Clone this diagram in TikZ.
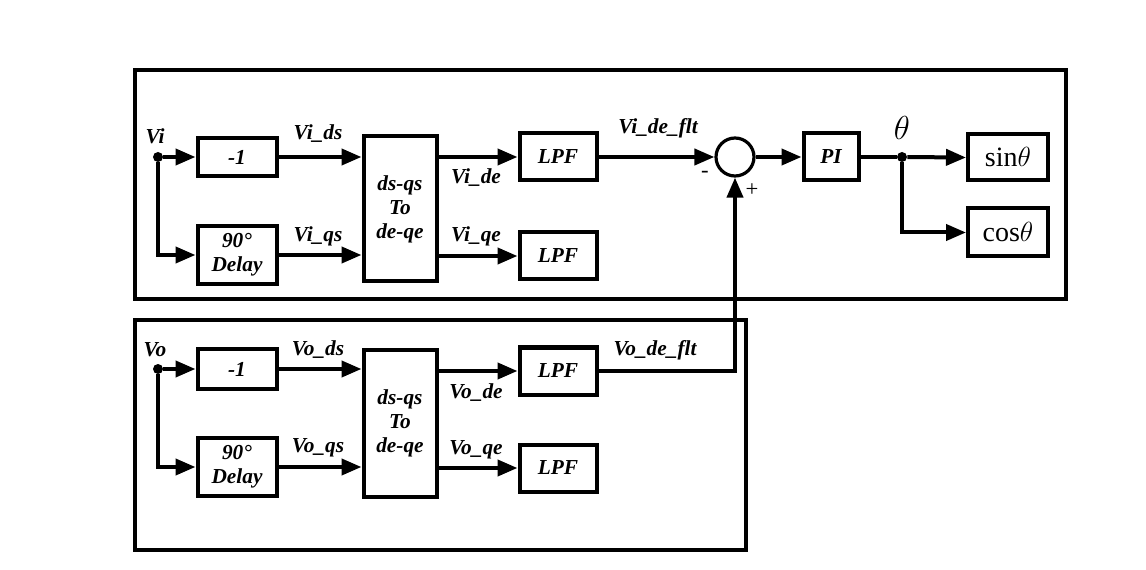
\documentclass[tikz,border=0pt]{standalone}
\usepackage{fontspec}
\setmainfont{Liberation Serif}
\usetikzlibrary{arrows.meta}
\newdimen\px \px=0.75pt
\begin{document}
\begin{tikzpicture}[x=0.75pt,y=-0.75pt,
  blk/.style={draw,line width=3pt,inner sep=0pt,align=center,font=\fontsize{16}{18}\selectfont\bfseries\itshape},
  rblk/.style={draw,line width=3pt,inner sep=0pt,align=center,font=\fontsize{21}{22}\selectfont},
  lbl/.style={font=\fontsize{16}{17}\selectfont\bfseries\itshape,inner sep=0pt},
  sgn/.style={font=\fontsize{17}{17}\selectfont,inner sep=0pt},
  frame/.style={draw,line width=3pt},
  arr/.style={line width=3pt,-{Triangle[length=15pt,width=12pt]}},
  ln/.style={line width=3pt},
  dotn/.style={circle,fill,inner sep=0pt,minimum size=7.5pt}]
\useasboundingbox (0,0) rectangle (1146,570);
% frames
\draw[frame] (135,70) rectangle (1066,299);
\draw[frame] (135,320) rectangle (746,550);
% ---------- top ----------
\node[dotn] (vi) at (158,157) {};
\node[lbl] (vil) at (155,136) {Vi};
\node[blk,minimum width=79\px,minimum height=38\px] (n1) at (237,157) {-1};
\node[blk,minimum width=79\px,minimum height=58\px] (d1) at (237,255) {90°\\Delay};
\node[blk,minimum width=73\px,minimum height=145\px] (t1) at (400,209) {ds-qs\\To\\de-qe};
\node[blk,minimum width=77\px,minimum height=47\px] (l1) at (558,157) {LPF};
\node[blk,minimum width=77\px,minimum height=47\px] (l2) at (558,256) {LPF};
\node[draw,circle,line width=2.4pt,minimum size=38\px,inner sep=0pt] (sum) at (735,157) {};
\node[blk,minimum width=55\px,minimum height=47\px] (pi) at (831,157) {PI};
\node[dotn] (th) at (902,157) {};
\node[font=\fontsize{30}{30}\selectfont,inner sep=0pt] (thl) at (902,128) {$\theta$};
\node[rblk,minimum width=80\px,minimum height=46\px] (sin) at (1008,157.5) {sin$\theta$};
\node[rblk,minimum width=80\px,minimum height=48\px] (cos) at (1008,232.5) {cos$\theta$};
\draw[arr] (vi) -- (n1.west);
\draw[arr] (vi) |- (d1.west);
\draw[arr] (n1.east) -- (n1.east -| t1.west);
\draw[arr] (d1.east) -- (d1.east -| t1.west);
\draw[arr] (l1.west -| t1.east) -- (l1.west);
\draw[arr] (l2.west -| t1.east) -- (l2.west);
\draw[arr] (l1.east) -- (sum.west);
\draw[arr] (sum.east) -- (pi.west);
\draw[ln] (pi.east) -- (th);
\draw[arr] (th) -- (sin.west);
\draw[arr] (th) |- (cos.west);
\node[lbl] at (318,134) {Vi\_ds};
\node[lbl] at (318,236) {Vi\_qs};
\node[lbl] at (476,178) {Vi\_de};
\node[lbl] at (476,236) {Vi\_qe};
\node[lbl] at (658,128) {Vi\_de\_flt};
\node[sgn] at (705,174) {-};
\node[sgn] at (752,190) {+};
% ---------- bottom ----------
\node[dotn] (vo) at (158,369) {};
\node[lbl] (vol) at (155,350) {Vo};
\node[blk,minimum width=79\px,minimum height=40\px] (n2) at (237,369) {-1};
\node[blk,minimum width=79\px,minimum height=58\px] (d2) at (237,467) {90°\\Delay};
\node[blk,minimum width=73\px,minimum height=147\px] (t2) at (400,423) {ds-qs\\To\\de-qe};
\node[blk,minimum width=77\px,minimum height=47\px] (l3) at (558,371) {LPF};
\node[blk,minimum width=77\px,minimum height=47\px] (l4) at (558,468) {LPF};
\coordinate (fb) at (735,371);
\draw[arr] (vo) -- (n2.west);
\draw[arr] (vo) |- (d2.west);
\draw[arr] (n2.east) -- (n2.east -| t2.west);
\draw[arr] (d2.east) -- (d2.east -| t2.west);
\draw[arr] (l3.west -| t2.east) -- (l3.west);
\draw[arr] (l4.west -| t2.east) -- (l4.west);
\draw[arr] (l3.east) -- (fb) -- (sum.south);
\node[lbl] at (318,350) {Vo\_ds};
\node[lbl] at (318,448) {Vo\_qs};
\node[lbl] at (476,393) {Vo\_de};
\node[lbl] at (476,450) {Vo\_qe};
\node[lbl] at (655,350) {Vo\_de\_flt};
\end{tikzpicture}
\end{document}
